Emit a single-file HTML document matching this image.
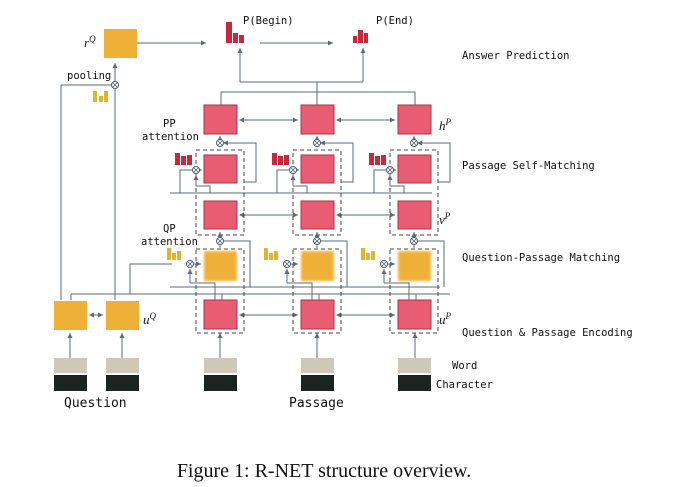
<!DOCTYPE html>
<html><head><meta charset="utf-8"><style>
body{margin:0;background:#fff;}
svg{display:block;}
.m{font-family:"DejaVu Sans Mono","Liberation Mono",monospace;font-size:10.5px;fill:#111;}
.it{font-family:"Liberation Serif",serif;font-style:italic;font-size:13px;fill:#111;}
</style></head><body>
<svg width="675" height="487" viewBox="0 0 675 487" xmlns="http://www.w3.org/2000/svg">
<defs>
<marker id="a" markerWidth="6" markerHeight="6" refX="5" refY="3" orient="auto"><path d="M0,0.5 L5,3 L0,5.5 z" fill="#5a6a78"/></marker>
<marker id="b" markerWidth="6" markerHeight="6" refX="1" refY="3" orient="auto"><path d="M5,0.5 L0,3 L5,5.5 z" fill="#5a6a78"/></marker>
<filter id="bl"><feGaussianBlur stdDeviation="1.2"/></filter>
<g id="ot"><circle r="3.5" fill="#fff" stroke="#4a5a68"/><path d="M-2,-2 L2,2 M-2,2 L2,-2" stroke="#4a5a68" stroke-width="0.8"/></g>
</defs>
<g stroke="#5a6a78" stroke-width="1" fill="none">
<line x1="137" y1="43" x2="206" y2="43" marker-end="url(#a)"/>
<line x1="260" y1="43" x2="333" y2="43" marker-end="url(#a)"/>
<polyline points="240,82 240,48" marker-end="url(#a)"/>
<polyline points="363,82 363,48" marker-end="url(#a)"/>
<line x1="240" y1="82" x2="363" y2="82"/>
<line x1="317" y1="82" x2="317" y2="105"/>
<polyline points="221,105 221,92 415,92 415,105"/>
<line x1="115" y1="300" x2="115" y2="63" marker-end="url(#a)"/>
<polyline points="61,300 61,85 112,85"/>
<line x1="240" y1="120" x2="298" y2="120" marker-start="url(#b)" marker-end="url(#a)"/>
<line x1="337" y1="120" x2="395" y2="120" marker-start="url(#b)" marker-end="url(#a)"/>
<line x1="240" y1="215" x2="298" y2="215" marker-start="url(#b)" marker-end="url(#a)"/>
<line x1="337" y1="215" x2="395" y2="215" marker-start="url(#b)" marker-end="url(#a)"/>
<line x1="240" y1="315" x2="298" y2="315" marker-start="url(#b)" marker-end="url(#a)"/>
<line x1="337" y1="315" x2="395" y2="315" marker-start="url(#b)" marker-end="url(#a)"/>
<line x1="90" y1="315" x2="103" y2="315" marker-start="url(#b)" marker-end="url(#a)"/>
<line x1="170" y1="193" x2="432" y2="193"/>
<line x1="71" y1="294" x2="450" y2="294"/>
<polyline points="71,300 71,294"/>
<polyline points="130,294 130,264 172,264"/>
<line x1="170" y1="287" x2="440" y2="287"/>
<line x1="70" y1="358" x2="70" y2="333" marker-end="url(#a)"/>
<line x1="122" y1="358" x2="122" y2="333" marker-end="url(#a)"/>
<line x1="220" y1="358" x2="220" y2="333" marker-end="url(#a)"/>
<line x1="317" y1="358" x2="317" y2="333" marker-end="url(#a)"/>
<line x1="415" y1="358" x2="415" y2="333" marker-end="url(#a)"/>
</g>
<g id="col">
<g stroke="#5a6a78" stroke-width="1" fill="none">
<rect x="196" y="150" width="48" height="85" stroke-dasharray="4,3" stroke="#444"/>
<rect x="196" y="249" width="48" height="84" stroke-dasharray="4,3" stroke="#444"/>
<line x1="220" y1="140" x2="220" y2="136" marker-end="url(#a)"/>
<polyline points="224,143 256,143 256,182 244,182" />
<line x1="224" y1="143" x2="226" y2="143" marker-start="url(#b)"/>
<line x1="200" y1="170" x2="202" y2="170" marker-end="url(#a)"/>
<polyline points="192,170 180,170 180,193"/>
<line x1="196" y1="186" x2="196" y2="175" marker-end="url(#a)"/>
<polyline points="196,186 210,186 210,193"/>
<line x1="220" y1="237" x2="220" y2="232" marker-end="url(#a)"/>
<polyline points="224,241 250,241 250,287"/>
<line x1="194" y1="264" x2="201" y2="264" marker-end="url(#a)"/>
<line x1="190" y1="283" x2="190" y2="269" marker-end="url(#a)"/>
<polyline points="190,283 215,283 215,300"/>
<line x1="220" y1="248" x2="220" y2="245"/>
<line x1="222" y1="294" x2="222" y2="300"/>
</g>
<use href="#ot" x="220" y="143"/>
<use href="#ot" x="196" y="170"/>
<use href="#ot" x="220" y="241"/>
<use href="#ot" x="190" y="264"/>
<rect x="204" y="105" width="33" height="29" fill="#e95d73" stroke="#a83347"/>
<rect x="204" y="155" width="33" height="28" fill="#e95d73" stroke="#a83347"/>
<rect x="204" y="201" width="33" height="28" fill="#e95d73" stroke="#a83347"/>
<rect x="204" y="251" width="33" height="30" fill="#efb038" filter="url(#bl)"/>
<rect x="204" y="300" width="33" height="29" fill="#e95d73" stroke="#a83347"/>
<rect x="204" y="358" width="33" height="15" fill="#cfc7b8"/>
<rect x="204" y="375" width="33" height="16" fill="#1b2420"/>
<g fill="#c8283a"><rect x="175" y="153" width="5" height="12"/><rect x="181" y="156" width="5" height="9"/><rect x="187" y="155" width="5" height="10"/></g>
<g fill="#dcb531"><rect x="167" y="248" width="4" height="12"/><rect x="172" y="253" width="4" height="7"/><rect x="177" y="251" width="4" height="9"/></g>
</g>
<use href="#col" x="97"/>
<use href="#col" x="194"/>
<rect x="54" y="301" width="33" height="29" fill="#efb038"/>
<rect x="106" y="301" width="33" height="29" fill="#efb038"/>
<rect x="54" y="358" width="33" height="15" fill="#cfc7b8"/>
<rect x="106" y="358" width="33" height="15" fill="#cfc7b8"/>
<rect x="54" y="375" width="33" height="16" fill="#1b2420"/>
<rect x="106" y="375" width="33" height="16" fill="#1b2420"/>
<rect x="104" y="29" width="33" height="29" fill="#efb038"/>
<use href="#ot" x="115" y="85"/>
<g fill="#dcb531"><rect x="93" y="91" width="4" height="11"/><rect x="99" y="96" width="4" height="6"/><rect x="104" y="91" width="4" height="11"/></g>
<g fill="#c8283a"><rect x="226" y="22" width="6" height="21"/><rect x="233" y="33" width="5" height="10"/><rect x="239" y="35" width="5" height="8"/>
<rect x="353" y="36" width="4" height="7"/><rect x="358" y="30" width="5" height="13"/><rect x="364" y="33" width="4" height="10"/></g>
<text class="m" x="243" y="24">P(Begin)</text>
<text class="m" x="376" y="24">P(End)</text>
<text class="m" x="462" y="59">Answer Prediction</text>
<text class="m" x="462" y="169">Passage Self-Matching</text>
<text class="m" x="462" y="261">Question-Passage Matching</text>
<text class="m" x="462" y="336">Question &amp; Passage Encoding</text>
<text class="m" x="452" y="369">Word</text>
<text class="m" x="436" y="388">Character</text>
<text class="m" x="67" y="79">pooling</text>
<text class="m" x="163" y="127">PP</text>
<text class="m" x="142" y="140">attention</text>
<text class="m" x="163" y="232">QP</text>
<text class="m" x="141" y="245">attention</text>
<text class="m" x="64" y="407" style="font-size:13px">Question</text>
<text class="m" x="289" y="407" style="font-size:13px">Passage</text>
<text class="it" x="84" y="47">r<tspan dy="-5" font-size="9">Q</tspan></text>
<text class="it" x="143" y="324">u<tspan dy="-5" font-size="9">Q</tspan></text>
<text class="it" x="439" y="130">h<tspan dy="-5" font-size="9">P</tspan></text>
<text class="it" x="439" y="224">v<tspan dy="-5" font-size="9">P</tspan></text>
<text class="it" x="439" y="324">u<tspan dy="-5" font-size="9">P</tspan></text>
<text x="324" y="477" text-anchor="middle" style="font-family:'Liberation Serif',serif;font-size:20px;fill:#111">Figure 1: R-NET structure overview.</text>
</svg>
</body></html>
